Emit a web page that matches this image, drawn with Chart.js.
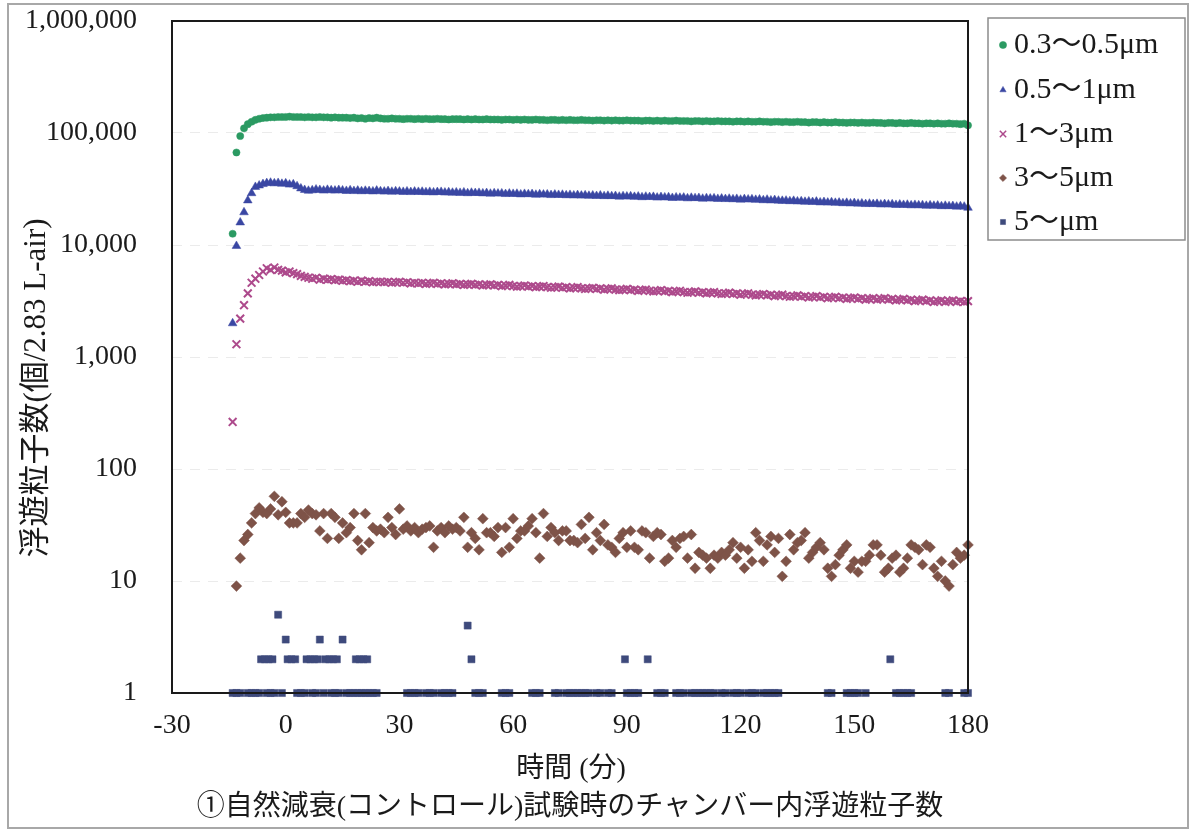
<!DOCTYPE html>
<html lang="ja">
<head>
<meta charset="utf-8">
<title>自然減衰（コントロール）試験時のチャンバー内浮遊粒子数</title>
<script src="https://cdn.jsdelivr.net/npm/chart.js@4.4.1/dist/chart.umd.min.js"></script>
<style>
  html, body { margin: 0; padding: 0; background: #fff; }
  #particleChart { display: block; }
</style>
</head>
<body>
<canvas id="particleChart" width="1191" height="831"></canvas>
<script>
// elapsed time of each reading (minutes)
const minutes = [
  -14, -13, -12, -11, -10, -9, -8, -7, -6, -5,
  -4, -3, -2, -1, 0, 1, 2, 3, 4, 5,
  6, 7, 8, 9, 10, 11, 12, 13, 14, 15,
  16, 17, 18, 19, 20, 21, 22, 23, 24, 25,
  26, 27, 28, 29, 30, 31, 32, 33, 34, 35,
  36, 37, 38, 39, 40, 41, 42, 43, 44, 45,
  46, 47, 48, 49, 50, 51, 52, 53, 54, 55,
  56, 57, 58, 59, 60, 61, 62, 63, 64, 65,
  66, 67, 68, 69, 70, 71, 72, 73, 74, 75,
  76, 77, 78, 79, 80, 81, 82, 83, 84, 85,
  86, 87, 88, 89, 90, 91, 92, 93, 94, 95,
  96, 97, 98, 99, 100, 101, 102, 103, 104, 105,
  106, 107, 108, 109, 110, 111, 112, 113, 114, 115,
  116, 117, 118, 119, 120, 121, 122, 123, 124, 125,
  126, 127, 128, 129, 130, 131, 132, 133, 134, 135,
  136, 137, 138, 139, 140, 141, 142, 143, 144, 145,
  146, 147, 148, 149, 150, 151, 152, 153, 154, 155,
  156, 157, 158, 159, 160, 161, 162, 163, 164, 165,
  166, 167, 168, 169, 170, 171, 172, 173, 174, 175,
  176, 177, 178, 179, 180
];

const seriesLabels = ['0.3～0.5μm', '0.5～1μm', '1～3μm', '3～5μm', '5～μm'];

// 0.3-0.5 um
const size03 = [
  12600, 67000, 94000, 110000, 120000, 126000, 131000, 134000, 136000, 137000,
  138000, 138000, 139000, 139000, 139000, 140000, 139000, 139000, 139000, 138000,
  139000, 138000, 138000, 139000, 138000, 138000, 137000, 138000, 137000, 137000,
  137000, 136000, 137000, 135000, 136000, 134000, 136000, 135000, 137000, 135000,
  134000, 134000, 135000, 134000, 134000, 133000, 134000, 134000, 133000, 134000,
  133000, 134000, 133000, 133000, 134000, 133000, 133000, 132000, 133000, 133000,
  133000, 132000, 133000, 132000, 133000, 132000, 132000, 133000, 132000, 132000,
  132000, 131000, 132000, 132000, 131000, 132000, 131000, 132000, 131000, 131000,
  132000, 131000, 131000, 130000, 131000, 131000, 130000, 131000, 130000, 131000,
  130000, 130000, 131000, 130000, 130000, 129000, 130000, 130000, 129000, 130000,
  129000, 130000, 129000, 129000, 130000, 129000, 129000, 129000, 128000, 129000,
  129000, 128000, 129000, 128000, 129000, 128000, 128000, 129000, 128000, 128000,
  128000, 127000, 128000, 128000, 127000, 128000, 127000, 127000, 128000, 127000,
  127000, 127000, 126000, 127000, 127000, 126000, 127000, 126000, 126000, 127000,
  126000, 126000, 125000, 126000, 126000, 125000, 126000, 125000, 125000, 126000,
  125000, 125000, 124000, 125000, 125000, 124000, 125000, 124000, 124000, 125000,
  124000, 124000, 123000, 124000, 124000, 123000, 124000, 123000, 123000, 124000,
  123000, 123000, 122000, 123000, 123000, 122000, 123000, 122000, 122000, 123000,
  122000, 122000, 121000, 122000, 122000, 121000, 122000, 121000, 121000, 122000,
  121000, 121000, 120000, 121000, 117000
];

// 0.5-1 um
const size05 = [
  2000, 9800, 15900, 19600, 25000, 29000, 33000, 34000, 35000, 35700,
  36000, 35500, 35800, 35200, 35500, 34600, 34800, 33500, 32000, 31000,
  30500, 30800, 31300, 31000, 30600, 31100, 30800, 30600, 31000, 30700,
  30400, 30800, 30300, 30600, 30200, 30500, 30300, 30100, 30600, 30200,
  30000, 30300, 29900, 30200, 30000, 29800, 30100, 29700, 30000, 29800,
  29900, 29600, 29800, 29500, 29700, 29800, 29400, 29600, 29300, 29500,
  29200, 29500, 29000, 29300, 29100, 29200, 28900, 29100, 28700, 29000,
  28800, 28900, 28500, 28800, 28600, 28700, 28300, 28600, 28400, 28500,
  28100, 28400, 28200, 28300, 27900, 28200, 28000, 28100, 27800, 28000,
  27700, 27900, 27600, 27800, 27500, 27700, 27400, 27700, 27300, 27500,
  27300, 27400, 27000, 27300, 27100, 27200, 26900, 27100, 26700, 27000,
  26800, 26900, 26500, 26800, 26600, 26700, 26300, 26600, 26400, 26500,
  26100, 26400, 26200, 26300, 25900, 26200, 26000, 26100, 25800, 26000,
  25700, 25900, 25600, 25800, 25400, 25700, 25500, 25600, 25300, 25500,
  25100, 25400, 25000, 25200, 24900, 24800, 24900, 24600, 24800, 24500,
  24600, 24300, 24500, 24200, 24400, 24000, 24200, 23900, 24100, 23800,
  23900, 23600, 23800, 23500, 23700, 23400, 23500, 23200, 23400, 23200,
  23300, 23000, 23200, 23000, 23100, 22800, 23000, 22800, 22900, 22600,
  22800, 22600, 22700, 22400, 22600, 22400, 22500, 22200, 22400, 22200,
  22300, 22000, 22200, 22000, 21500
];

// 1-3 um
const size1 = [
  263, 1300, 2200, 2900, 3700, 4600, 5000, 5400, 5800, 6200,
  6000, 6300, 6000, 5900, 5700, 5800, 5600, 5500, 5300, 5200,
  5100, 5000, 5100, 4900, 5000, 4900, 4950, 4850, 4900, 4800,
  4850, 4750, 4800, 4700, 4800, 4700, 4750, 4650, 4700, 4700,
  4650, 4700, 4600, 4650, 4700, 4600, 4650, 4550, 4600, 4550,
  4600, 4500, 4550, 4600, 4500, 4550, 4450, 4500, 4550, 4450,
  4500, 4400, 4450, 4500, 4400, 4450, 4350, 4400, 4450, 4350,
  4400, 4300, 4350, 4400, 4300, 4250, 4300, 4350, 4250, 4300,
  4200, 4250, 4300, 4200, 4150, 4200, 4250, 4150, 4200, 4100,
  4150, 4200, 4100, 4050, 4100, 4150, 4050, 4100, 4000, 4050,
  4100, 4000, 3950, 4000, 4050, 3950, 4000, 3900, 3950, 4000,
  3900, 3850, 3900, 3950, 3850, 3900, 3800, 3850, 3900, 3800,
  3750, 3800, 3850, 3750, 3800, 3700, 3750, 3800, 3700, 3650,
  3700, 3750, 3650, 3700, 3600, 3650, 3700, 3600, 3550, 3600,
  3650, 3550, 3600, 3500, 3550, 3600, 3500, 3450, 3500, 3550,
  3450, 3500, 3400, 3450, 3500, 3400, 3450, 3350, 3400, 3450,
  3350, 3400, 3300, 3350, 3400, 3300, 3350, 3250, 3300, 3350,
  3250, 3300, 3350, 3250, 3300, 3200, 3250, 3300, 3200, 3250,
  3150, 3200, 3250, 3150, 3200, 3100, 3150, 3200, 3100, 3150,
  3200, 3100, 3150, 3100, 3150
];

// 3-5 um (null = no particles counted)
const size3 = [
  null, 9, 16, 23, 26, 33, 40, 45, 41, 40,
  44, 57, 39, 51, 41, 33, 33, 33, 40, 37,
  43, 40, 39, 28, 40, 24, 40, 37, 24, 33,
  27, 30, 40, 23, 19, 40, 22, 30, 28, 29,
  27, 37, 30, 26, 44, 29, 31, 28, 30, 27,
  29, 30, 31, 20, 28, 30, 27, 31, 29, 30,
  28, 37, 20, 27, 24, 19, 36, 27, 27, 25,
  30, 18, 30, 20, 36, 24, 28, 28, 31, 36,
  27, 16, 40, 25, 30, 27, 23, 28, 28, 23,
  23, 22, 32, 24, 37, 19, 27, 23, 32, 21,
  20, 18, 24, 27, 20, 28, 20, 19, 28, 27,
  16, 25, 27, 26, 15, 16, 23, 20, 24, 25,
  16, 26, 13, 18, 17, 16, 13, 17, 16, 18,
  17, 19, 22, 16, 20, 13, 19, 15, 27, 23,
  15, 21, 25, 18, 24, 11, 15, 26, 19, 22,
  23, 27, 16, 18, 20, 22, 19, 13, 11, 14,
  17, 19, 21, 13, 15, 12, 15, 15, 17, 21,
  21, 17, 12, 13, 16, 17, 12, 13, 16, 21,
  20, 19, 14, 21, 20, 13, 11, 15, 10, 9,
  14, 18, 16, 17, 21
];

// 5 um and above: only the readings with a non-zero count
const size5Times = [
  -14, -13, -12, -10, -9, -8, -7, -6.5, -5.5, -5, -4.5, -4, -3.5, -3, -2, -1,
  0, 0.5, 1.5, 2.5, 3, 4, 5, 5.5, 6.5, 7, 7.5, 8, 8.5, 9, 10, 10.5, 11.5, 12,
  12.5, 13, 13.5, 14, 15, 16, 17, 18, 18.5, 19, 19.5, 20, 20.5, 21, 21.5, 22,
  23, 24, 32, 33, 34, 35, 37, 38, 39, 41, 42, 43, 44, 48, 49, 50, 51, 52,
  57, 58, 59, 65, 66, 67, 71, 72, 74, 75, 76, 77, 78, 79, 80, 82, 83, 85, 86,
  89.5, 90, 91, 92, 93, 95.5, 98, 99, 100, 103, 104, 105, 107, 108, 109, 110,
  111, 112, 113, 115, 116, 118, 119, 120, 122, 123, 124, 126, 127, 128, 129,
  130, 143, 144, 148, 149, 150, 151, 153, 159.5, 161, 162, 163, 164, 165,
  174, 175, 179, 180
];
const size5Counts = [
  1, 1, 1, 1, 1, 1, 1, 2, 2, 1, 2, 1, 2, 1, 5, 1,
  3, 2, 2, 2, 1, 1, 1, 2, 2, 1, 2, 1, 2, 3, 1, 2, 2, 1,
  2, 1, 2, 1, 3, 1, 1, 1, 2, 1, 2, 1, 2, 1, 2, 1,
  1, 1, 1, 1, 1, 1, 1, 1, 1, 1, 1, 1, 1, 4, 2, 1, 1, 1,
  1, 1, 1, 1, 1, 1, 1, 1, 1, 1, 1, 1, 1, 1, 1, 1, 1, 1, 1,
  2, 1, 1, 1, 1, 2, 1, 1, 1, 1, 1, 1, 1, 1, 1, 1,
  1, 1, 1, 1, 1, 1, 1, 1, 1, 1, 1, 1, 1, 1, 1,
  1, 1, 1, 1, 1, 1, 1, 1, 2, 1, 1, 1, 1, 1,
  1, 1, 1, 1
];

const xTicks = [-30, 0, 30, 60, 90, 120, 150, 180];
const yTicks = [1, 10, 100, 1000, 10000, 100000, 1000000];

const numFont = '"Liberation Serif", "Noto Sans CJK JP", serif';

function toPoints(times, values) {
  return times.map((t, i) => ({ x: t, y: values[i] }));
}

const datasets = [
  {
    label: seriesLabels[0],
    data: toPoints(minutes, size03),
    pointStyle: 'circle',
    pointRadius: 3.6,
    pointBackgroundColor: '#2b9a62',
    pointBorderColor: '#2b9a62',
    pointBorderWidth: 0.5
  },
  {
    label: seriesLabels[1],
    data: toPoints(minutes, size05),
    pointStyle: 'triangle',
    pointRadius: 5,
    pointBackgroundColor: '#3a47a3',
    pointBorderColor: '#3a47a3',
    pointBorderWidth: 0.5
  },
  {
    label: seriesLabels[2],
    data: toPoints(minutes, size1),
    pointStyle: 'crossRot',
    pointRadius: 5.5,
    pointBackgroundColor: '#ad4a8c',
    pointBorderColor: '#ad4a8c',
    pointBorderWidth: 2
  },
  {
    label: seriesLabels[3],
    data: toPoints(minutes, size3),
    pointStyle: 'rectRot',
    pointRadius: 5.4,
    pointBackgroundColor: '#7e5348',
    pointBorderColor: '#7e5348',
    pointBorderWidth: 0.5
  },
  {
    label: seriesLabels[4],
    data: toPoints(size5Times, size5Counts),
    pointStyle: 'rect',
    pointRadius: 5,
    pointBackgroundColor: '#3e4a7c',
    pointBorderColor: '#3e4a7c',
    pointBorderWidth: 0.5
  }
].map(ds => Object.assign(ds, { showLine: false, clip: false }));

// frame, outer border, axis titles, caption and the boxed legend
const decorPlugin = {
  id: 'decor',
  afterDraw(chart) {
    const { ctx, chartArea } = chart;
    ctx.save();

    ctx.strokeStyle = '#a8a8a8';
    ctx.lineWidth = 2;
    ctx.strokeRect(8, 4, 1180, 824);

    ctx.strokeStyle = '#1a1a1a';
    ctx.lineWidth = 2;
    ctx.strokeRect(chartArea.left, chartArea.top,
      chartArea.right - chartArea.left, chartArea.bottom - chartArea.top);

    ctx.fillStyle = '#1a1a1a';
    ctx.textAlign = 'center';
    ctx.textBaseline = 'middle';
    ctx.font = '28px ' + numFont;
    ctx.fillText('時間 (分)', 571, 770);
    ctx.fillText('①自然減衰(コントロール)試験時のチャンバー内浮遊粒子数', 570, 808);

    ctx.save();
    ctx.translate(37, 388);
    ctx.rotate(-Math.PI / 2);
    ctx.font = '31px ' + numFont;
    ctx.fillText('浮遊粒子数(個/2.83 L-air)', 0, 0);
    ctx.restore();

    // legend
    ctx.strokeStyle = '#8c8c8c';
    ctx.lineWidth = 1.5;
    ctx.strokeRect(988, 18, 197, 222);
    const rows = [45, 90, 134, 178, 222];
    ctx.textAlign = 'left';
    ctx.font = '30px ' + numFont;
    chart.data.datasets.forEach((ds, i) => {
      ctx.fillStyle = ds.pointBackgroundColor;
      ctx.strokeStyle = ds.pointBorderColor;
      ctx.lineWidth = ds.pointStyle === 'crossRot' ? 1.5 : 0.5;
      Chart.helpers.drawPoint(ctx, {
        pointStyle: ds.pointStyle,
        radius: ds.pointStyle === 'crossRot' ? 4.5 : 3.6,
        rotation: 0,
        borderWidth: ctx.lineWidth
      }, 1003, rows[i]);
      ctx.fillStyle = '#1a1a1a';
      ctx.fillText(ds.label, 1014, rows[i]);
    });

    ctx.restore();
  }
};

new Chart(document.getElementById('particleChart'), {
  type: 'scatter',
  data: { datasets },
  plugins: [decorPlugin],
  options: {
    responsive: false,
    animation: false,
    events: [],
    layout: { padding: { left: 0, right: 223, top: 21, bottom: 0 } },
    plugins: {
      legend: { display: false },
      tooltip: { enabled: false }
    },
    scales: {
      x: {
        type: 'linear',
        min: -30,
        max: 180,
        afterBuildTicks: scale => { scale.ticks = xTicks.map(v => ({ value: v })); },
        afterFit: scale => {
          scale.height = 138;
          scale.paddingLeft = 0;
          scale.paddingRight = 0;
        },
        grid: { display: false, drawTicks: false },
        border: { display: false },
        ticks: {
          padding: 16,
          color: '#1a1a1a',
          font: { family: numFont, size: 28 }
        }
      },
      y: {
        type: 'logarithmic',
        min: 1,
        max: 1000000,
        afterBuildTicks: scale => { scale.ticks = yTicks.map(v => ({ value: v })); },
        afterFit: scale => {
          scale.width = 172;
          scale.paddingTop = 0;
          scale.paddingBottom = 0;
        },
        grid: { color: 'rgba(0,0,0,0.08)', lineWidth: 1, drawTicks: false },
        border: { display: false, dash: [10, 8] },
        ticks: {
          padding: 35,
          color: '#1a1a1a',
          font: { family: numFont, size: 28 },
          callback: value => Number(value).toLocaleString('en-US')
        }
      }
    }
  }
});
</script>
</body>
</html>
